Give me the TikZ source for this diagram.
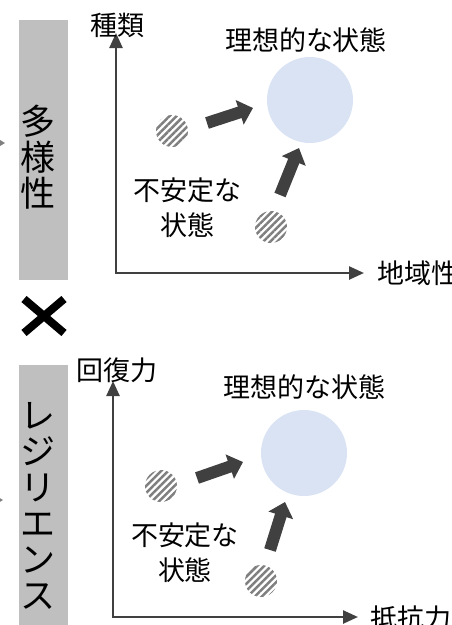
\documentclass[tikz,border=0pt]{standalone}
\usepackage{fontspec}
\setmainfont{Noto Sans CJK JP}
\usetikzlibrary{arrows.meta,patterns.meta}
\definecolor{boxgray}{RGB}{191,191,191}
\definecolor{idealblue}{RGB}{218,227,243}
\definecolor{darkline}{RGB}{64,64,64}
\definecolor{hatchgray}{RGB}{127,127,127}
\begin{document}
\begin{tikzpicture}[x=1pt,y=-1pt,
  lbl/.style={font=\fontsize{27}{35}\selectfont, inner sep=0pt, align=center, text=black},
  vlbl/.style={font=\fontsize{35}{36}\selectfont, inner sep=0pt, align=center, text=black},
  sidebox/.style={fill=boxgray, draw=none, inner sep=0pt, anchor=north west, minimum width=49pt, minimum height=260pt},
  axisline/.style={draw=darkline, line width=2.5pt, line join=miter, {Triangle[width=13pt,length=15pt]}-{Triangle[width=13pt,length=15pt]}},
  movearrow/.style={draw=darkline, line width=12pt, -{Triangle[width=25pt,length=14pt]}},
  idealdot/.style={circle, fill=idealblue, draw=none, minimum size=86pt, inner sep=0pt},
  hatchdot/.style={circle, draw=none, pattern={Lines[angle=45,distance=5pt,line width=2.5pt]}, pattern color=hatchgray, minimum size=32pt, inner sep=0pt},
  stub/.style={draw=gray, line width=1pt, -{Triangle[width=7pt,length=6pt]}},
  crossline/.style={draw=black, line width=8pt},
]
\useasboundingbox (0,0) rectangle (451,625);

% ---------- top panel ----------
\node (box1) [sidebox] at (19,20) {};
\node (vt1) [vlbl] at (37.5,157) {多\\様\\性};
\coordinate (s1a) at (-8,143);
\coordinate (s1b) at (5,143);
\draw[stub] (s1a) -- (s1b);

\coordinate (y1) at (116,33);
\coordinate (o1) at (116,273);
\coordinate (x1) at (364,273);
\draw[axisline] (y1) -- (o1) -- (x1);
\node (ylab1) [lbl] at (117,25) {種類};
\node (xlab1) [lbl, anchor=west] at (377,273) {地域性};

\node (ideal1) [idealdot] at (310,100) {};
\node (ilab1) [lbl] at (306,40) {理想的な状態};
\node (ha1) [hatchdot] at (172,131) {};
\node (hb1) [hatchdot] at (271,227) {};
\node (ulab1) [lbl] at (187,208) {不安定な\\状態};

\coordinate (a1s) at (207,123);
\coordinate (a1e) at (253,108);
\coordinate (b1s) at (280,195);
\coordinate (b1e) at (299,148);
\draw[movearrow] (a1s) -- (a1e);
\draw[movearrow] (b1s) -- (b1e);

% ---------- cross ----------
\coordinate (c1) at (24,299);
\coordinate (c2) at (64,333);
\coordinate (c3) at (24,333);
\coordinate (c4) at (64,299);
\draw[crossline] (c1) -- (c2);
\draw[crossline] (c3) -- (c4);

% ---------- bottom panel ----------
\node (box2) [sidebox] at (19,365) {};
\node (vt2) [vlbl] at (37.5,506) {レ\\ジ\\リ\\エ\\ン\\ス};
\coordinate (s2a) at (-8,500);
\coordinate (s2b) at (3,500);
\draw[stub] (s2a) -- (s2b);

\coordinate (y2) at (113,381);
\coordinate (o2) at (113,617);
\coordinate (x2) at (358,617);
\draw[axisline] (y2) -- (o2) -- (x2);
\node (ylab2) [lbl] at (117,370) {回復力};
\node (xlab2) [lbl, anchor=west] at (370,618) {抵抗力};

\node (ideal2) [idealdot] at (304,453) {};
\node (ilab2) [lbl] at (304,387) {理想的な状態};
\node (ha2) [hatchdot] at (161,486) {};
\node (hb2) [hatchdot] at (261,581) {};
\node (ulab2) [lbl] at (185,553) {不安定な\\状態};

\coordinate (a2s) at (197,478);
\coordinate (a2e) at (243,462);
\coordinate (b2s) at (270,550);
\coordinate (b2e) at (285,502);
\draw[movearrow] (a2s) -- (a2e);
\draw[movearrow] (b2s) -- (b2e);
\end{tikzpicture}
\end{document}
